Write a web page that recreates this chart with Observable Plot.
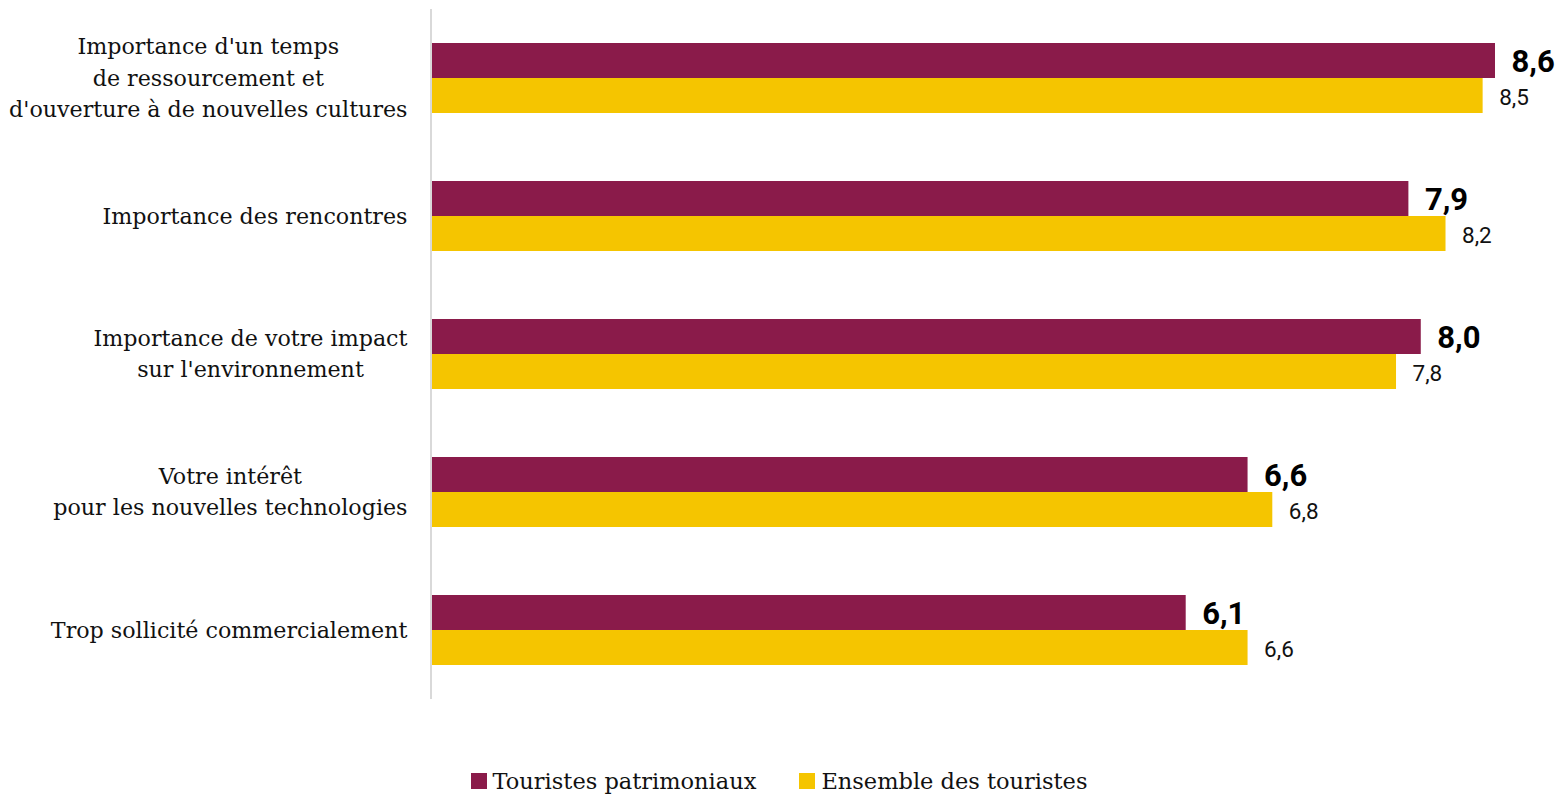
<!DOCTYPE html>
<html>
<head>
<meta charset="utf-8">
<script src="https://cdn.jsdelivr.net/npm/d3@7"></script>
<script src="https://cdn.jsdelivr.net/npm/@observablehq/plot@0.6"></script>
<style>
  html, body { margin: 0; padding: 0; background: #fff; }
  #legend { display: flex; justify-content: center; align-items: center; gap: 43px; height: 40px; padding-top: 6px; font-family: "DejaVu Serif", serif; font-size: 22.5px; color: #111; }
  #legend .item { display: flex; align-items: center; gap: 6px; }
  #legend .sw { width: 16px; height: 16px; display: inline-block; }
</style>
</head>
<body>
<div id="chart"></div>
<div id="legend"></div>
<script>
const categories = [
  "Importance d'un temps\nde ressourcement et\nd'ouverture à de nouvelles cultures",
  "Importance des rencontres",
  "Importance de votre impact\nsur l'environnement",
  "Votre intérêt\npour les nouvelles technologies",
  "Trop sollicité commercialement"
];
const series = ["Touristes patrimoniaux", "Ensemble des touristes"];
const patrimoniaux = [8.6, 7.9, 8.0, 6.6, 6.1];
const ensemble = [8.5, 8.2, 7.8, 6.8, 6.6];
const colors = ["#8A1B4A", "#F5C500"];

const data = [];
categories.forEach((c, i) => {
  data.push({category: c, series: series[0], value: patrimoniaux[i]});
  data.push({category: c, series: series[1], value: ensemble[i]});
});
const fmt = v => d3.format(".1f")(v).replace(".", ",");

const chart = Plot.plot({
  width: 1558,
  height: 755,
  marginTop: 8,
  marginBottom: 55,
  marginLeft: 431,
  marginRight: 63,
  x: {domain: [0, 8.6], axis: null},
  fy: {domain: categories, padding: 0, axis: null},
  y: {domain: series, paddingInner: 0, paddingOuter: 0.924, axis: null},
  color: {domain: series, range: colors},
  marks: [
    Plot.barX(data, {fy: "category", y: "series", x: "value", fill: "series"}),
    Plot.ruleX([0], {stroke: "#d9d9d9", strokeWidth: 2, dx: -0.5}),
    Plot.text(data.filter(d => d.series === series[0]), {
      fy: "category", y: "series", x: "value", text: d => fmt(d.value),
      dx: 16, dy: 1.5, textAnchor: "start", fontWeight: "bold", fontSize: 31,
      fontFamily: "Roboto", fill: "#000"
    }),
    Plot.text(data.filter(d => d.series === series[1]), {
      fy: "category", y: "series", x: "value", text: d => fmt(d.value),
      dx: 16, dy: 2, textAnchor: "start", fontSize: 22.5,
      fontFamily: "Roboto", fill: "#111"
    }),
    Plot.text(categories, {
      fy: d => d, text: d => d, frameAnchor: "left", dx: -24, dy: -3,
      textAnchor: "middle", lineHeight: 1.42, fontSize: 22.2,
      fontFamily: "DejaVu Serif", fill: "#111", ariaLabel: () => "category-label"
    })
  ]
});
document.getElementById("chart").appendChild(chart);

// center each line within its block, with the block right-aligned against the axis
chart.querySelectorAll('text[aria-label="category-label"]').forEach(t => {
  const w = t.getBBox().width;
  const tr = t.getAttribute("transform") || "";
  t.setAttribute("transform", tr + ` translate(${-w / 2},0)`);
});

const legend = document.getElementById("legend");
series.forEach((s, i) => {
  const item = document.createElement("div");
  item.className = "item";
  const sw = document.createElement("span");
  sw.className = "sw";
  sw.style.background = colors[i];
  const lab = document.createElement("span");
  lab.textContent = s;
  item.appendChild(sw);
  item.appendChild(lab);
  legend.appendChild(item);
});
</script>
</body>
</html>
